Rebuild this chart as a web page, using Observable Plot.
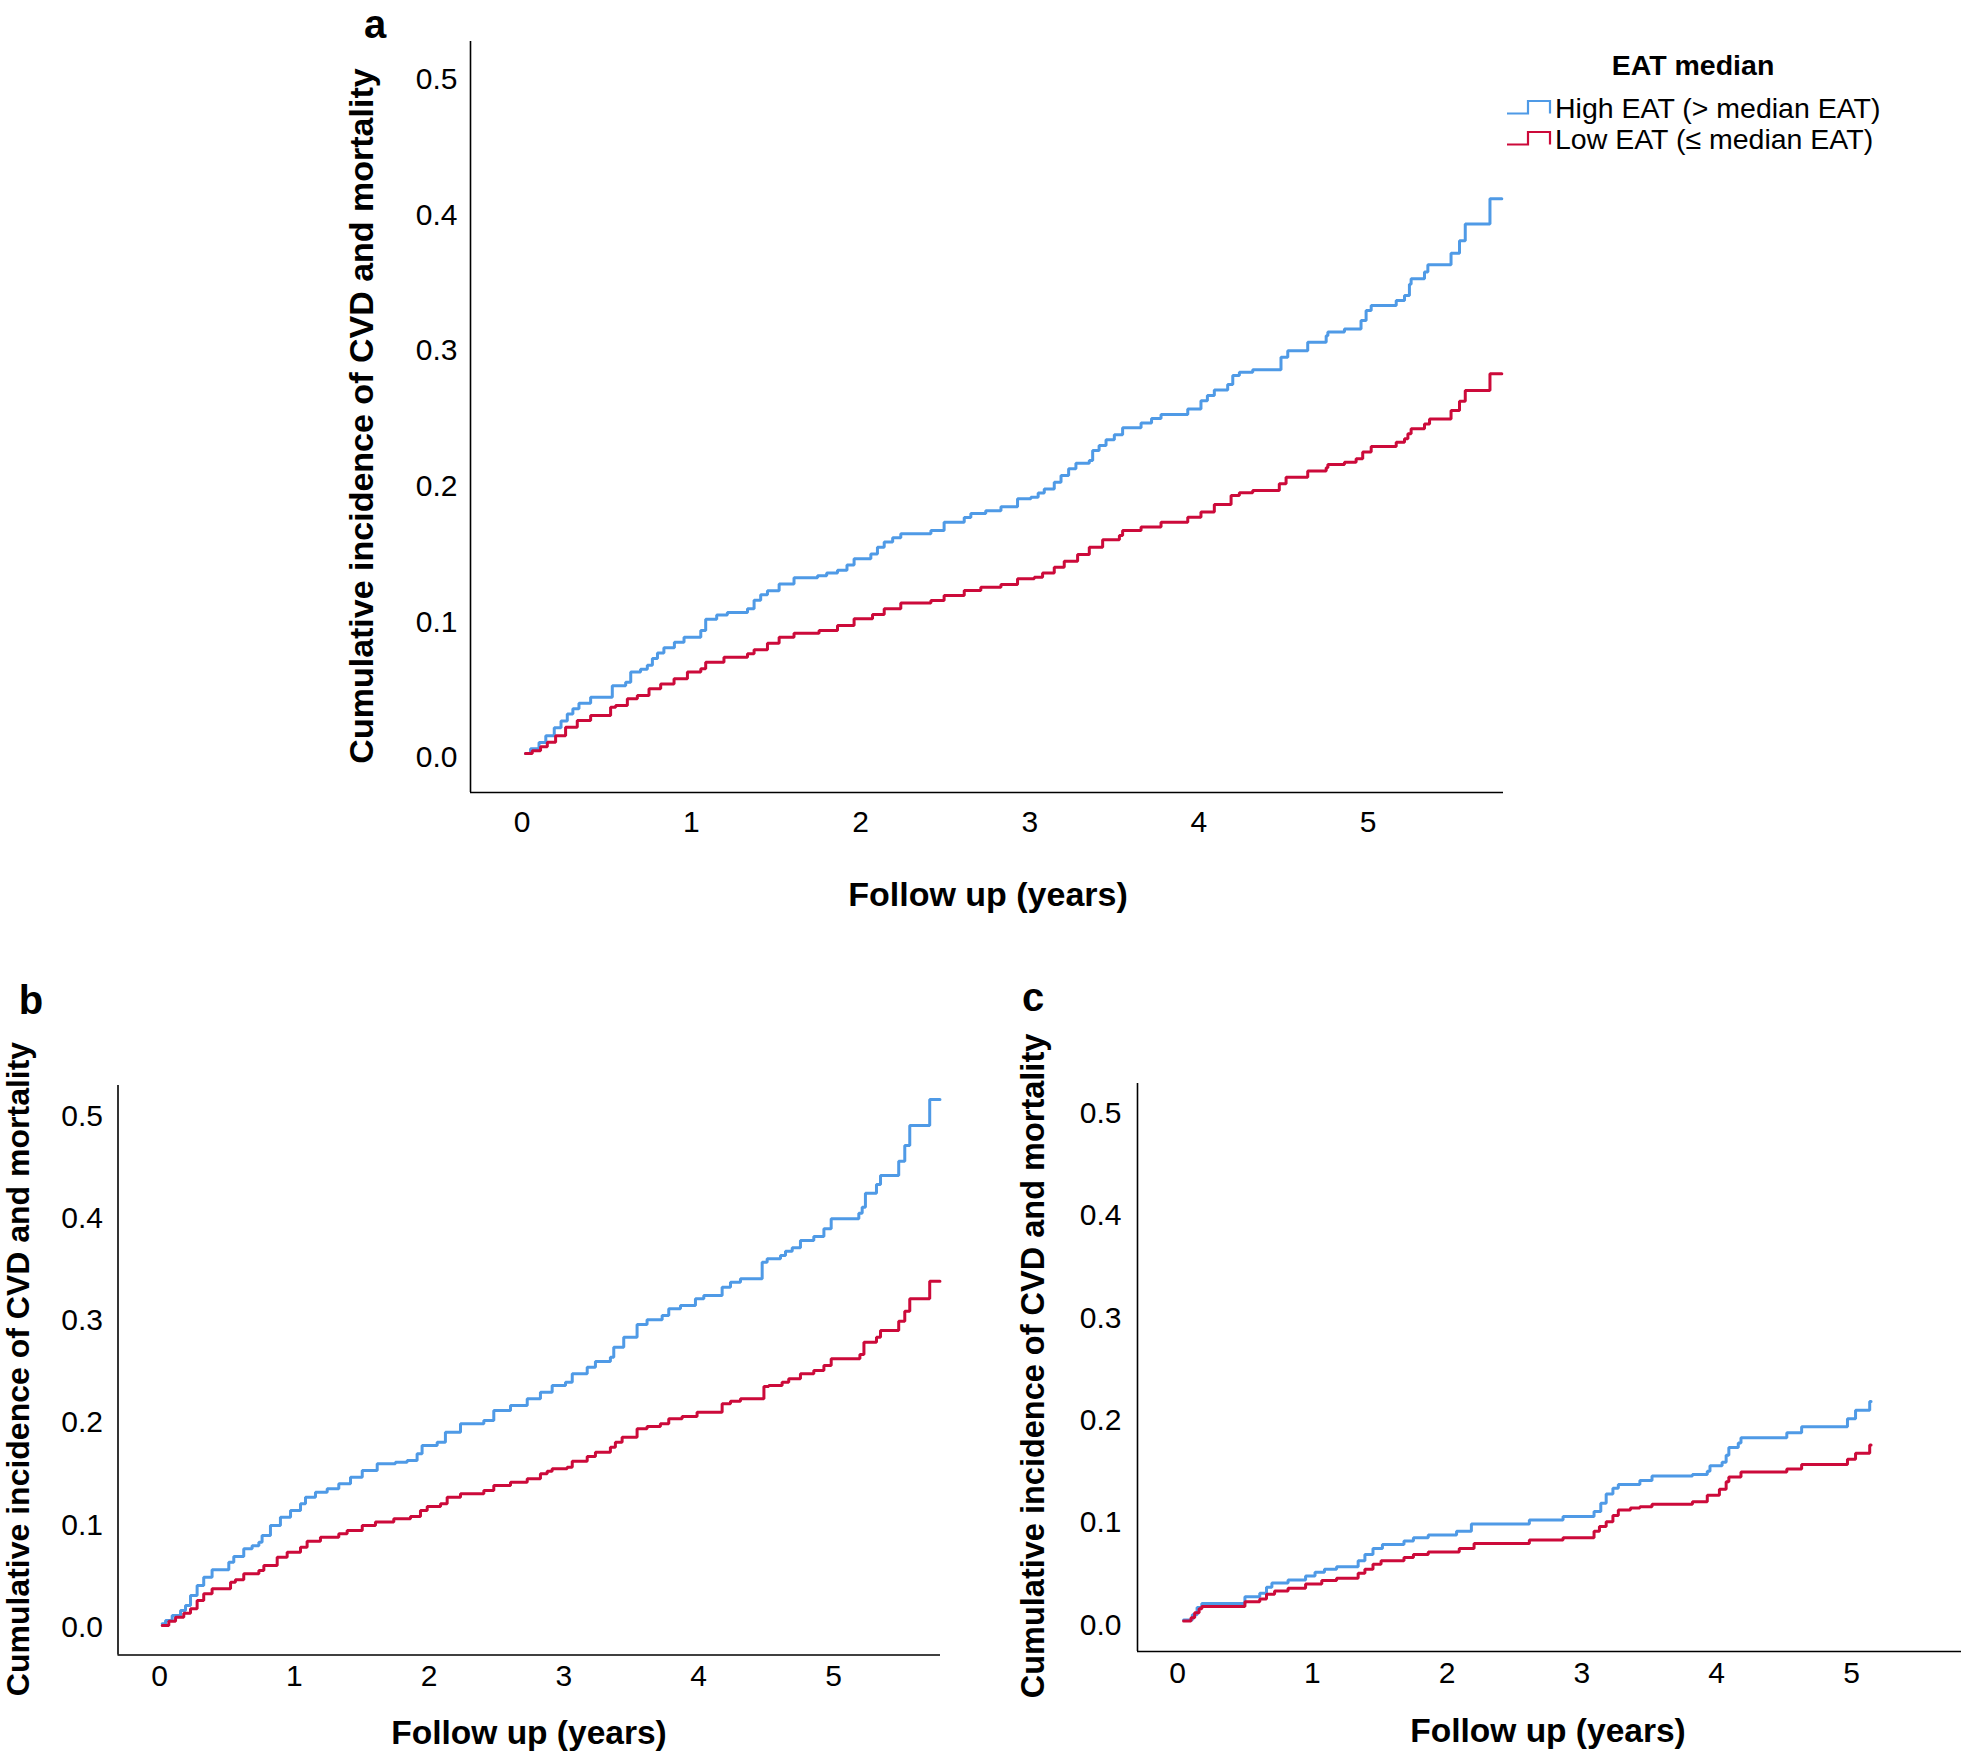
<!DOCTYPE html>
<html>
<head>
<meta charset="utf-8">
<script src="https://cdn.jsdelivr.net/npm/d3@7"></script>
<script src="https://cdn.jsdelivr.net/npm/@observablehq/plot@0.6"></script>
<style>
  html, body { margin: 0; padding: 0; background: #fff; }
  #fig { position: relative; width: 1961px; height: 1753px; overflow: hidden; font-family: "Liberation Sans", Arial, sans-serif; color: #000; }
  .abs { position: absolute; white-space: nowrap; line-height: 1; transform: translate(-50%, -50%); }
  .title { font-weight: bold; font-size: 34px; }
  .ytitle { transform: translate(-50%, -50%) rotate(-90deg); }
  .letter { font-weight: bold; font-size: 40px; }
  .panel { position: absolute; }
  .legtext { position: absolute; white-space: nowrap; line-height: 1; font-size: 28.5px; transform: translateY(-50%); }
</style>
</head>
<body>
<div id="fig"></div>
<script>
// ---------- data ----------
const xTicks = [0, 1, 2, 3, 4, 5];
const yTicks = [0, 0.1, 0.2, 0.3, 0.4, 0.5];
const seriesNames = ["High EAT (> median EAT)", "Low EAT (\u2264 median EAT)"];
const legendTitle = "EAT median";
const xTitle = "Follow up (years)";
const yTitle = "Cumulative incidence of CVD and mortality";

// panel a : [follow-up years, cumulative incidence]
const aHigh = [[0.02,0.003],[0.05,0.0064],[0.10,0.011],[0.14,0.016],[0.19,0.022],[0.23,0.027],[0.267,0.032],[0.30,0.036],[0.336,0.040],[0.405,0.0445],[0.533,0.053],[0.612,0.0555],[0.642,0.063],[0.70,0.065],[0.74,0.068],[0.77,0.073],[0.80,0.077],[0.838,0.081],[0.90,0.085],[0.957,0.0887],[1.056,0.0937],[1.085,0.102],[1.15,0.105],[1.213,0.107],[1.332,0.1097],[1.371,0.116],[1.41,0.120],[1.45,0.123],[1.519,0.128],[1.607,0.1325],[1.746,0.134],[1.80,0.136],[1.864,0.138],[1.92,0.142],[1.962,0.1465],[2.061,0.150],[2.10,0.155],[2.14,0.159],[2.19,0.162],[2.238,0.165],[2.416,0.1674],[2.494,0.1735],[2.613,0.177],[2.652,0.180],[2.74,0.182],[2.83,0.185],[2.928,0.1908],[3.007,0.192],[3.05,0.195],[3.086,0.198],[3.145,0.203],[3.185,0.208],[3.23,0.213],[3.273,0.217],[3.352,0.219],[3.372,0.2264],[3.41,0.230],[3.451,0.2343],[3.50,0.238],[3.549,0.2431],[3.658,0.2466],[3.72,0.250],[3.776,0.253],[3.934,0.257],[4.012,0.263],[4.05,0.267],[4.091,0.271],[4.17,0.275],[4.20,0.2817],[4.239,0.2841],[4.318,0.286],[4.485,0.2952],[4.525,0.300],[4.643,0.3063],[4.752,0.311],[4.762,0.3137],[4.86,0.316],[4.958,0.3223],[4.988,0.3296],[5.018,0.3333],[5.166,0.337],[5.215,0.3407],[5.244,0.349],[5.254,0.353],[5.333,0.358],[5.353,0.3633],[5.49,0.3719],[5.54,0.381],[5.574,0.3935],[5.72,0.412],[5.79,0.412]];
const aLow = [[0.02,0.003],[0.06,0.005],[0.109,0.008],[0.149,0.0113],[0.198,0.016],[0.257,0.0224],[0.326,0.0273],[0.405,0.031],[0.523,0.037],[0.553,0.0383],[0.622,0.0433],[0.681,0.0457],[0.75,0.0507],[0.819,0.0543],[0.898,0.058],[0.977,0.063],[1.056,0.0654],[1.085,0.0703],[1.193,0.074],[1.332,0.0765],[1.371,0.0794],[1.45,0.0843],[1.519,0.0887],[1.607,0.0917],[1.755,0.0937],[1.864,0.0973],[1.962,0.1023],[2.071,0.1055],[2.14,0.1097],[2.238,0.114],[2.416,0.1158],[2.494,0.1195],[2.613,0.1232],[2.711,0.1256],[2.83,0.1276],[2.928,0.1318],[3.027,0.133],[3.076,0.136],[3.145,0.1403],[3.204,0.1448],[3.283,0.1497],[3.352,0.155],[3.431,0.1605],[3.53,0.1637],[3.549,0.1674],[3.658,0.170],[3.776,0.1735],[3.934,0.1772],[4.012,0.181],[4.091,0.1866],[4.19,0.1932],[4.239,0.1952],[4.318,0.1969],[4.475,0.2018],[4.515,0.2067],[4.643,0.2112],[4.752,0.2136],[4.762,0.216],[4.86,0.2178],[4.929,0.2203],[4.968,0.2252],[5.018,0.2294],[5.166,0.2325],[5.215,0.235],[5.235,0.2387],[5.254,0.2424],[5.333,0.246],[5.363,0.2497],[5.49,0.2559],[5.54,0.2628],[5.574,0.2706],[5.72,0.283],[5.79,0.283]];

// panel b
const bHigh = [[0.02,0.0036],[0.045,0.0068],[0.094,0.0117],[0.156,0.0166],[0.193,0.0215],[0.23,0.0313],[0.279,0.041],[0.328,0.049],[0.39,0.0564],[0.514,0.0638],[0.551,0.0694],[0.625,0.0769],[0.687,0.080],[0.737,0.0834],[0.761,0.090],[0.823,0.0997],[0.897,0.1078],[0.972,0.1144],[1.046,0.121],[1.083,0.1274],[1.157,0.1323],[1.244,0.1356],[1.33,0.1405],[1.417,0.1469],[1.504,0.1535],[1.615,0.160],[1.75,0.1616],[1.837,0.1632],[1.911,0.1698],[1.948,0.1779],[2.06,0.1811],[2.121,0.1909],[2.233,0.1991],[2.406,0.2023],[2.48,0.2121],[2.604,0.217],[2.728,0.2236],[2.826,0.230],[2.913,0.2366],[3.012,0.2398],[3.062,0.248],[3.173,0.2545],[3.234,0.26],[3.345,0.2642],[3.37,0.274],[3.444,0.2838],[3.543,0.2962],[3.617,0.3008],[3.729,0.305],[3.778,0.3115],[3.865,0.3148],[3.976,0.3213],[4.038,0.3245],[4.174,0.3327],[4.236,0.3375],[4.31,0.3408],[4.471,0.357],[4.508,0.3604],[4.607,0.3636],[4.644,0.3678],[4.694,0.3712],[4.755,0.3783],[4.854,0.3822],[4.929,0.3897],[4.983,0.3995],[5.188,0.405],[5.213,0.4108],[5.237,0.4245],[5.319,0.433],[5.349,0.4418],[5.484,0.4558],[5.529,0.4712],[5.566,0.4907],[5.714,0.516],[5.79,0.516]];
const bLow = [[0.02,0.002],[0.069,0.0062],[0.119,0.010],[0.18,0.014],[0.23,0.0183],[0.279,0.0264],[0.328,0.033],[0.39,0.0378],[0.527,0.0443],[0.563,0.0466],[0.625,0.0525],[0.737,0.0557],[0.774,0.0606],[0.873,0.0687],[0.947,0.0736],[1.046,0.0785],[1.095,0.0844],[1.194,0.0883],[1.33,0.0916],[1.392,0.0948],[1.504,0.0997],[1.602,0.103],[1.738,0.1063],[1.862,0.1085],[1.936,0.1144],[1.986,0.1183],[2.085,0.121],[2.134,0.1274],[2.233,0.1307],[2.406,0.1339],[2.48,0.1388],[2.604,0.142],[2.728,0.1453],[2.826,0.1502],[2.876,0.1528],[2.913,0.1551],[3.024,0.1567],[3.062,0.1626],[3.173,0.1672],[3.234,0.1714],[3.345,0.1762],[3.382,0.1811],[3.432,0.186],[3.543,0.1942],[3.617,0.1965],[3.716,0.1991],[3.778,0.204],[3.877,0.2063],[3.988,0.2105],[4.174,0.2187],[4.236,0.2212],[4.31,0.2236],[4.484,0.2356],[4.52,0.2366],[4.619,0.2398],[4.668,0.2431],[4.755,0.248],[4.854,0.2512],[4.929,0.2561],[4.983,0.2627],[5.196,0.2669],[5.226,0.2789],[5.319,0.2838],[5.349,0.2903],[5.484,0.2994],[5.529,0.3092],[5.566,0.3213],[5.714,0.3385],[5.79,0.3385]];

// panel c
const cHigh = [[0.045,0.005],[0.11,0.010],[0.145,0.017],[0.18,0.021],[0.50,0.0275],[0.61,0.031],[0.66,0.037],[0.70,0.041],[0.82,0.044],[0.95,0.048],[1.02,0.0516],[1.09,0.0545],[1.18,0.057],[1.34,0.0627],[1.39,0.069],[1.45,0.0747],[1.52,0.0786],[1.68,0.082],[1.75,0.0853],[1.86,0.088],[2.07,0.0916],[2.18,0.0988],[2.61,0.1027],[2.86,0.106],[3.09,0.111],[3.14,0.119],[3.18,0.128],[3.23,0.1336],[3.27,0.1374],[3.43,0.1413],[3.52,0.1456],[3.82,0.147],[3.93,0.1504],[3.95,0.1557],[4.04,0.159],[4.07,0.166],[4.09,0.1736],[4.16,0.178],[4.18,0.183],[4.52,0.188],[4.63,0.1938],[4.97,0.2015],[5.03,0.210],[5.135,0.2184],[5.145,0.2184]];
const cLow = [[0.045,0.004],[0.10,0.007],[0.127,0.012],[0.16,0.016],[0.18,0.018],[0.50,0.0227],[0.61,0.0255],[0.66,0.030],[0.72,0.0333],[0.82,0.036],[0.95,0.040],[1.07,0.0434],[1.18,0.0458],[1.34,0.0506],[1.39,0.0545],[1.45,0.0593],[1.51,0.0627],[1.68,0.066],[1.75,0.069],[1.86,0.0714],[2.09,0.0747],[2.20,0.0796],[2.61,0.083],[2.86,0.0853],[3.09,0.0916],[3.13,0.0964],[3.18,0.101],[3.23,0.107],[3.27,0.1123],[3.36,0.1143],[3.43,0.1157],[3.52,0.118],[3.82,0.1205],[3.93,0.1268],[4.02,0.1326],[4.07,0.140],[4.09,0.1446],[4.18,0.1495],[4.52,0.1525],[4.63,0.157],[4.97,0.162],[5.03,0.168],[5.135,0.176],[5.145,0.176]];

// ---------- styling ----------
const BLUE = "#4f9ae6";
const RED = "#cc0a3a";
const FONT = "'Liberation Sans', Arial, Helvetica, sans-serif";

const fig = document.getElementById("fig");

function panel(cfg) {
  const [hi, lo] = cfg.series;
  const chart = Plot.plot({
    width: cfg.width,
    height: cfg.height,
    marginLeft: cfg.ml, marginRight: cfg.mr, marginTop: cfg.mt, marginBottom: cfg.mb,
    x: { domain: cfg.xDomain },
    y: { domain: cfg.yDomain },
    style: { fontFamily: FONT, fontSize: "30px", color: "#000", background: "transparent", overflow: "visible" },
    marks: [
      Plot.axisX(xTicks, { tickSize: 0, tickPadding: cfg.padX, fontSize: 30, label: null, tickFormat: d3.format("d") }),
      Plot.axisY(yTicks, { tickSize: 0, tickPadding: cfg.padY, fontSize: 30, label: null, tickFormat: d3.format(".1f") }),
      Plot.ruleX([cfg.xDomain[0]], { stroke: "#000", strokeWidth: 1.6 }),
      Plot.ruleY([cfg.yDomain[0]], { stroke: "#000", strokeWidth: 1.6 }),
      Plot.line(hi, { x: d => d[0], y: d => d[1], curve: "step-after", stroke: BLUE, strokeWidth: 3, strokeLinejoin: "miter" }),
      Plot.line(lo, { x: d => d[0], y: d => d[1], curve: "step-after", stroke: RED, strokeWidth: 3, strokeLinejoin: "miter" })
    ]
  });
  const wrap = document.createElement("div");
  wrap.className = "panel";
  wrap.style.left = cfg.left + "px";
  wrap.style.top = cfg.top + "px";
  wrap.appendChild(chart);
  fig.appendChild(wrap);
}

function label(text, x, y, cls, size) {
  const el = document.createElement("div");
  el.className = "abs " + cls;
  el.textContent = text;
  el.style.left = x + "px";
  el.style.top = y + "px";
  if (size) el.style.fontSize = size + "px";
  fig.appendChild(el);
  return el;
}

// panel a
panel({ series: [aHigh, aLow], left: 250, top: 0, width: 1300, height: 930,
  ml: 220, mr: 47, mt: 41, mb: 138, xDomain: [-0.305, 5.80], yDomain: [-0.0258, 0.528], padX: 18, padY: 13 });
// panel b
panel({ series: [bHigh, bLow], left: 0, top: 1000, width: 1000, height: 753,
  ml: 117.5, mr: 60, mt: 85, mb: 98.5, xDomain: [-0.308, 5.794], yDomain: [-0.0269, 0.5298], padX: 10, padY: 15 });
// panel c
panel({ series: [cHigh, cLow], left: 1000, top: 1000, width: 961, height: 753,
  ml: 137, mr: 0, mt: 83, mb: 102, xDomain: [-0.297, 5.816], yDomain: [-0.0259, 0.5293], padX: 10, padY: 16 });

// axis titles
label(xTitle, 988, 894, "title", 34);
label(xTitle, 529, 1733, "title", 33.5);
label(xTitle, 1548, 1731, "title", 33.5);
label(yTitle, 361, 416, "title ytitle", 34);
label(yTitle, 18, 1369, "title ytitle", 32);
label(yTitle, 1033, 1366, "title ytitle", 32.5);

// panel letters
label("a", 375, 24, "letter");
label("b", 31, 1000, "letter");
label("c", 1033, 997, "letter");

// legend
label(legendTitle, 1693, 65, "title", 28.5);
const legendRows = [
  { name: seriesNames[0], color: BLUE, y: 108 },
  { name: seriesNames[1], color: RED, y: 139 }
];
const ns = "http://www.w3.org/2000/svg";
legendRows.forEach(r => {
  const svg = document.createElementNS(ns, "svg");
  svg.setAttribute("width", 46);
  svg.setAttribute("height", 18);
  svg.style.position = "absolute";
  svg.style.left = "1506px";
  svg.style.top = (r.y - 9) + "px";
  const p = document.createElementNS(ns, "path");
  p.setAttribute("d", "M1,14.5 H22 V2 H44 V14.5");
  p.setAttribute("fill", "none");
  p.setAttribute("stroke", r.color);
  p.setAttribute("stroke-width", 2.2);
  svg.appendChild(p);
  fig.appendChild(svg);
  const t = document.createElement("div");
  t.className = "legtext";
  t.textContent = r.name;
  t.style.left = "1555px";
  t.style.top = r.y + "px";
  fig.appendChild(t);
});
</script>
</body>
</html>
